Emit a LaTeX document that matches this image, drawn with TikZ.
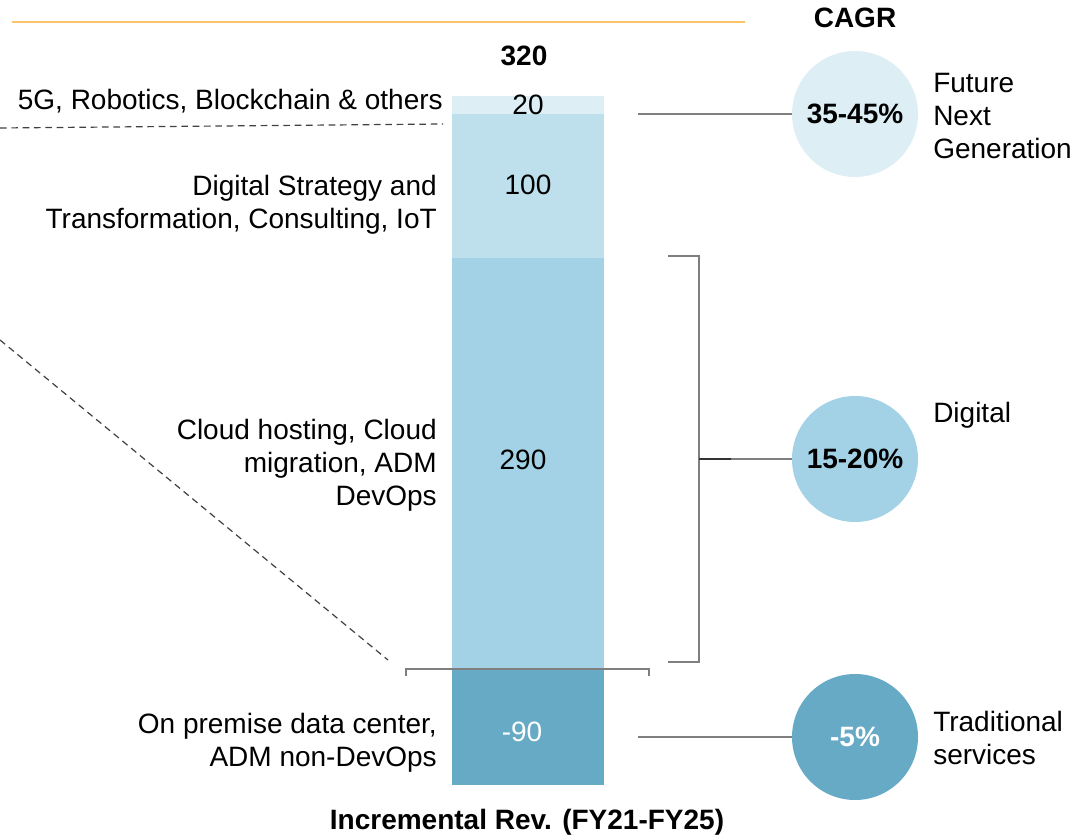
\documentclass[tikz,border=0pt]{standalone}
\usepackage{fontspec}
\setmainfont{Liberation Sans}
\definecolor{segA}{HTML}{DDEEF5}
\definecolor{segB}{HTML}{BEE0EC}
\definecolor{segC}{HTML}{A3D1E5}
\definecolor{segD}{HTML}{66AAC6}
\definecolor{rule}{HTML}{FAC46A}
\definecolor{conn}{HTML}{7F7F7F}
\begin{document}
\begin{tikzpicture}[x=0.75pt,y=-0.75pt,
  txt/.style={font=\fontsize{21}{24.75}\selectfont, inner sep=0pt},
  lbl/.style={txt, anchor=east, align=right},
  rlbl/.style={txt, anchor=west, align=left},
  bld/.style={txt, font=\fontsize{21}{24.75}\selectfont\bfseries},
  cagr/.style={circle, minimum size=94.5pt, inner sep=0pt, font=\fontsize{21}{24.75}\selectfont\bfseries},
  connline/.style={draw=conn, line width=1.1pt},
  dashline/.style={draw=black!75, line width=0.9pt, dashed, dash pattern=on 5pt off 3.5pt}]
\useasboundingbox (0,0) rectangle (1077,837);
% top rule
\draw[rule, line width=1.5pt] (12,22) -- (745,22);
\node[bld] (cagrt) at (855,18) {CAGR};
\node[bld] (tot) at (524,56) {320};
% bar segments
\fill[segA] (452,96) rectangle (604,114);
\fill[segB] (452,114) rectangle (604,258);
\fill[segC] (452,258) rectangle (604,670);
\fill[segD] (452,670) rectangle (604,785);
\node[txt] (v1) at (528,105) {20};
\node[txt] (v2) at (528,185) {100};
\node[txt] (v3) at (523,460) {290};
\node[txt, text=white] (v4) at (522,732) {-90};
% left labels
\node[lbl] (l1) at (443,101) {5G, Robotics, Blockchain \& others};
\node[lbl] (l2) at (437,205) {Digital Strategy and\\Transformation, Consulting, IoT};
\node[lbl] (l3) at (437,465) {Cloud hosting, Cloud\\migration, ADM\\DevOps};
\node[lbl] (l4) at (437,743) {On premise data center,\\ADM non-DevOps};
% dashed guides
\coordinate (d1a) at (0,128);
\coordinate (d1b) at (443,124);
\coordinate (d2a) at (0,340);
\coordinate (d2b) at (388,660);
\draw[dashline] (d1a) -- (d1b);
\draw[dashline] (d2a) -- (d2b);
% circles
\node[cagr, fill=segA] (c1) at (855,114) {35-45\%};
\node[cagr, fill=segC] (c2) at (855,459) {15-20\%};
\node[cagr, fill=segD, text=white] (c3) at (855,737) {-5\%};
% right labels
\node[rlbl] (r1) at (933,116) {Future\\Next\\Generation};
\node[rlbl] (r2) at (933,415) {Digital};
\node[rlbl] (r3) at (933,738) {Traditional\\services};
% connectors
\coordinate (k1) at (638,114);
\coordinate (k3) at (638,737);
\draw[connline] (k1) -- (c1.west);
\draw[connline] (k3) -- (c3.west);
% right bracket
\coordinate (b1) at (668,256);
\coordinate (b2) at (699,256);
\coordinate (b3) at (699,662);
\coordinate (b4) at (668,662);
\coordinate (bm) at (699,459);
\coordinate (bn) at (731,459);
\draw[connline] (b1) -- (b2) -- (b3) -- (b4);
\draw[connline] (bm) -- (c2.west);
\draw[draw=black!80, line width=1.1pt] (bm) -- (bn);
% bottom bracket
\coordinate (h1) at (406,676);
\coordinate (h2) at (406,669);
\coordinate (h3) at (649,669);
\coordinate (h4) at (649,676);
\draw[connline] (h1) -- (h2) -- (h3) -- (h4);
% axis caption
\node[bld] (cap) at (527,822) {Incremental Rev. (FY21-FY25)};
\end{tikzpicture}
\end{document}
